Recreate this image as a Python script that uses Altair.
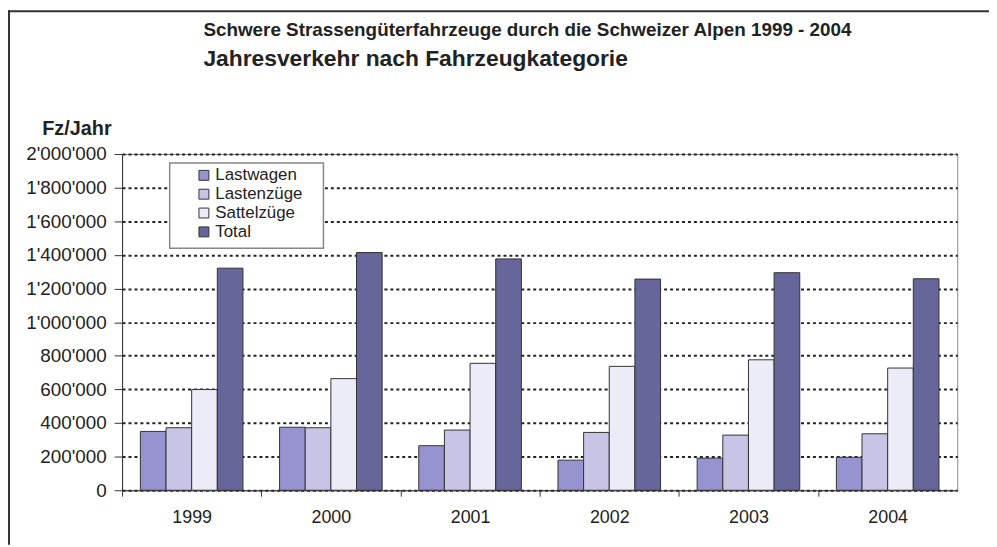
import altair as alt
import pandas as pd

# ---- data ----
years = ["1999", "2000", "2001", "2002", "2003", "2004"]
categories = ["Lastwagen", "Lastenzüge", "Sattelzüge", "Total"]
lastwagen = [350000, 375000, 265000, 179000, 191000, 196000]
lastenzuege = [372000, 372000, 358000, 344000, 328000, 336000]
sattelzuege = [599000, 664000, 755000, 737000, 776000, 727000]
total = [1321000, 1414000, 1376000, 1256000, 1294000, 1258000]
colors = ["#9792d0", "#c8c4e6", "#ecebf8", "#66669a"]
y_ticks = [0, 200000, 400000, 600000, 800000, 1000000, 1200000, 1400000, 1600000, 1800000, 2000000]
title_lines = ["Schwere Strassengüterfahrzeuge durch die Schweizer Alpen 1999 - 2004",
               "Jahresverkehr nach Fahrzeugkategorie"]

series = {"Lastwagen": lastwagen, "Lastenzüge": lastenzuege,
          "Sattelzüge": sattelzuege, "Total": total}
rows = []
for cat in categories:
    for yr, v in zip(years, series[cat]):
        rows.append({"Jahr": yr, "Kategorie": cat, "Wert": v})
df = pd.DataFrame(rows)

W, H = 842, 339
step = W / len(years)
FONT = "Liberation Sans"

bars = alt.Chart(df).mark_bar(stroke="#333333", strokeWidth=1).encode(
    x=alt.X("Jahr:N", sort=years,
            scale=alt.Scale(paddingInner=0.263, paddingOuter=0.1315),
            axis=alt.Axis(title=None, labelAngle=0, labelFontSize=18, labelColor="#222222",
                          labelPadding=13, tickSize=6, tickColor="#333333",
                          domainColor="#333333", bandPosition=0.5,
                          tickOffset=-step / 2, labelOffset=step / 2, grid=False)),
    xOffset=alt.XOffset("Kategorie:N", sort=categories,
                        scale=alt.Scale(paddingInner=0, paddingOuter=0)),
    y=alt.Y("Wert:Q", scale=alt.Scale(domain=[0, 2000000], nice=False),
            axis=alt.Axis(values=y_ticks, title="Fz/Jahr", titleAngle=0,
                          titleFontSize=20, titleFontWeight="bold", titleColor="#222222",
                          titleAlign="center", titleBaseline="middle",
                          titleX=-46, titleY=-26,
                          labelFontSize=19, labelColor="#222222", labelPadding=8,
                          tickSize=8, tickColor="#333333", domainColor="#333333",
                          labelExpr="replace(format(datum.value, ','), regexp(',', 'g'), \"'\")",
                          grid=True, gridColor="#222222", gridWidth=2, gridDash=[3, 3])),
    color=alt.Color("Kategorie:N", sort=categories,
                    scale=alt.Scale(domain=categories, range=colors),
                    legend=alt.Legend(title=None, orient="none", legendX=74, legendY=13,
                                      symbolType="square", symbolSize=100,
                                      symbolStrokeColor="#333333", symbolStrokeWidth=1,
                                      labelFontSize=17, labelColor="#222222",
                                      labelOffset=3, rowPadding=1, padding=0)),
)

one = pd.DataFrame({"k": [0]})
legend_box = alt.Chart(one).mark_rect(fill="white", stroke="#888888", strokeWidth=1.5).encode(
    x=alt.value(48), x2=alt.value(203), y=alt.value(9), y2=alt.value(95))

frame_top = alt.Chart(one).mark_rule(color="#333333", strokeWidth=2).encode(
    x=alt.value(-115), x2=alt.value(874), y=alt.value(-144))
frame_left = alt.Chart(one).mark_rule(color="#333333", strokeWidth=2).encode(
    x=alt.value(-114), y=alt.value(-145), y2=alt.value(394))

title1 = alt.Chart(one).mark_text(
    text=title_lines[0], align="left", baseline="middle", font=FONT,
    fontSize=19, fontWeight="bold", color="#222222").encode(
    x=alt.value(82), y=alt.value(-125))
title2 = alt.Chart(one).mark_text(
    text=title_lines[1], align="left", baseline="middle", font=FONT,
    fontSize=23, fontWeight="bold", color="#222222").encode(
    x=alt.value(82), y=alt.value(-96))

chart = alt.layer(legend_box, bars, frame_top, frame_left, title1, title2).properties(
    width=W, height=H,
    autosize=alt.AutoSizeParams(type="none"),
    padding={"left": 115, "top": 145, "right": 32, "bottom": 55},
).configure(font=FONT).configure_view(stroke="#888888", strokeWidth=1)

chart.save("out.html", embed_options={"renderer": "svg", "actions": False})
